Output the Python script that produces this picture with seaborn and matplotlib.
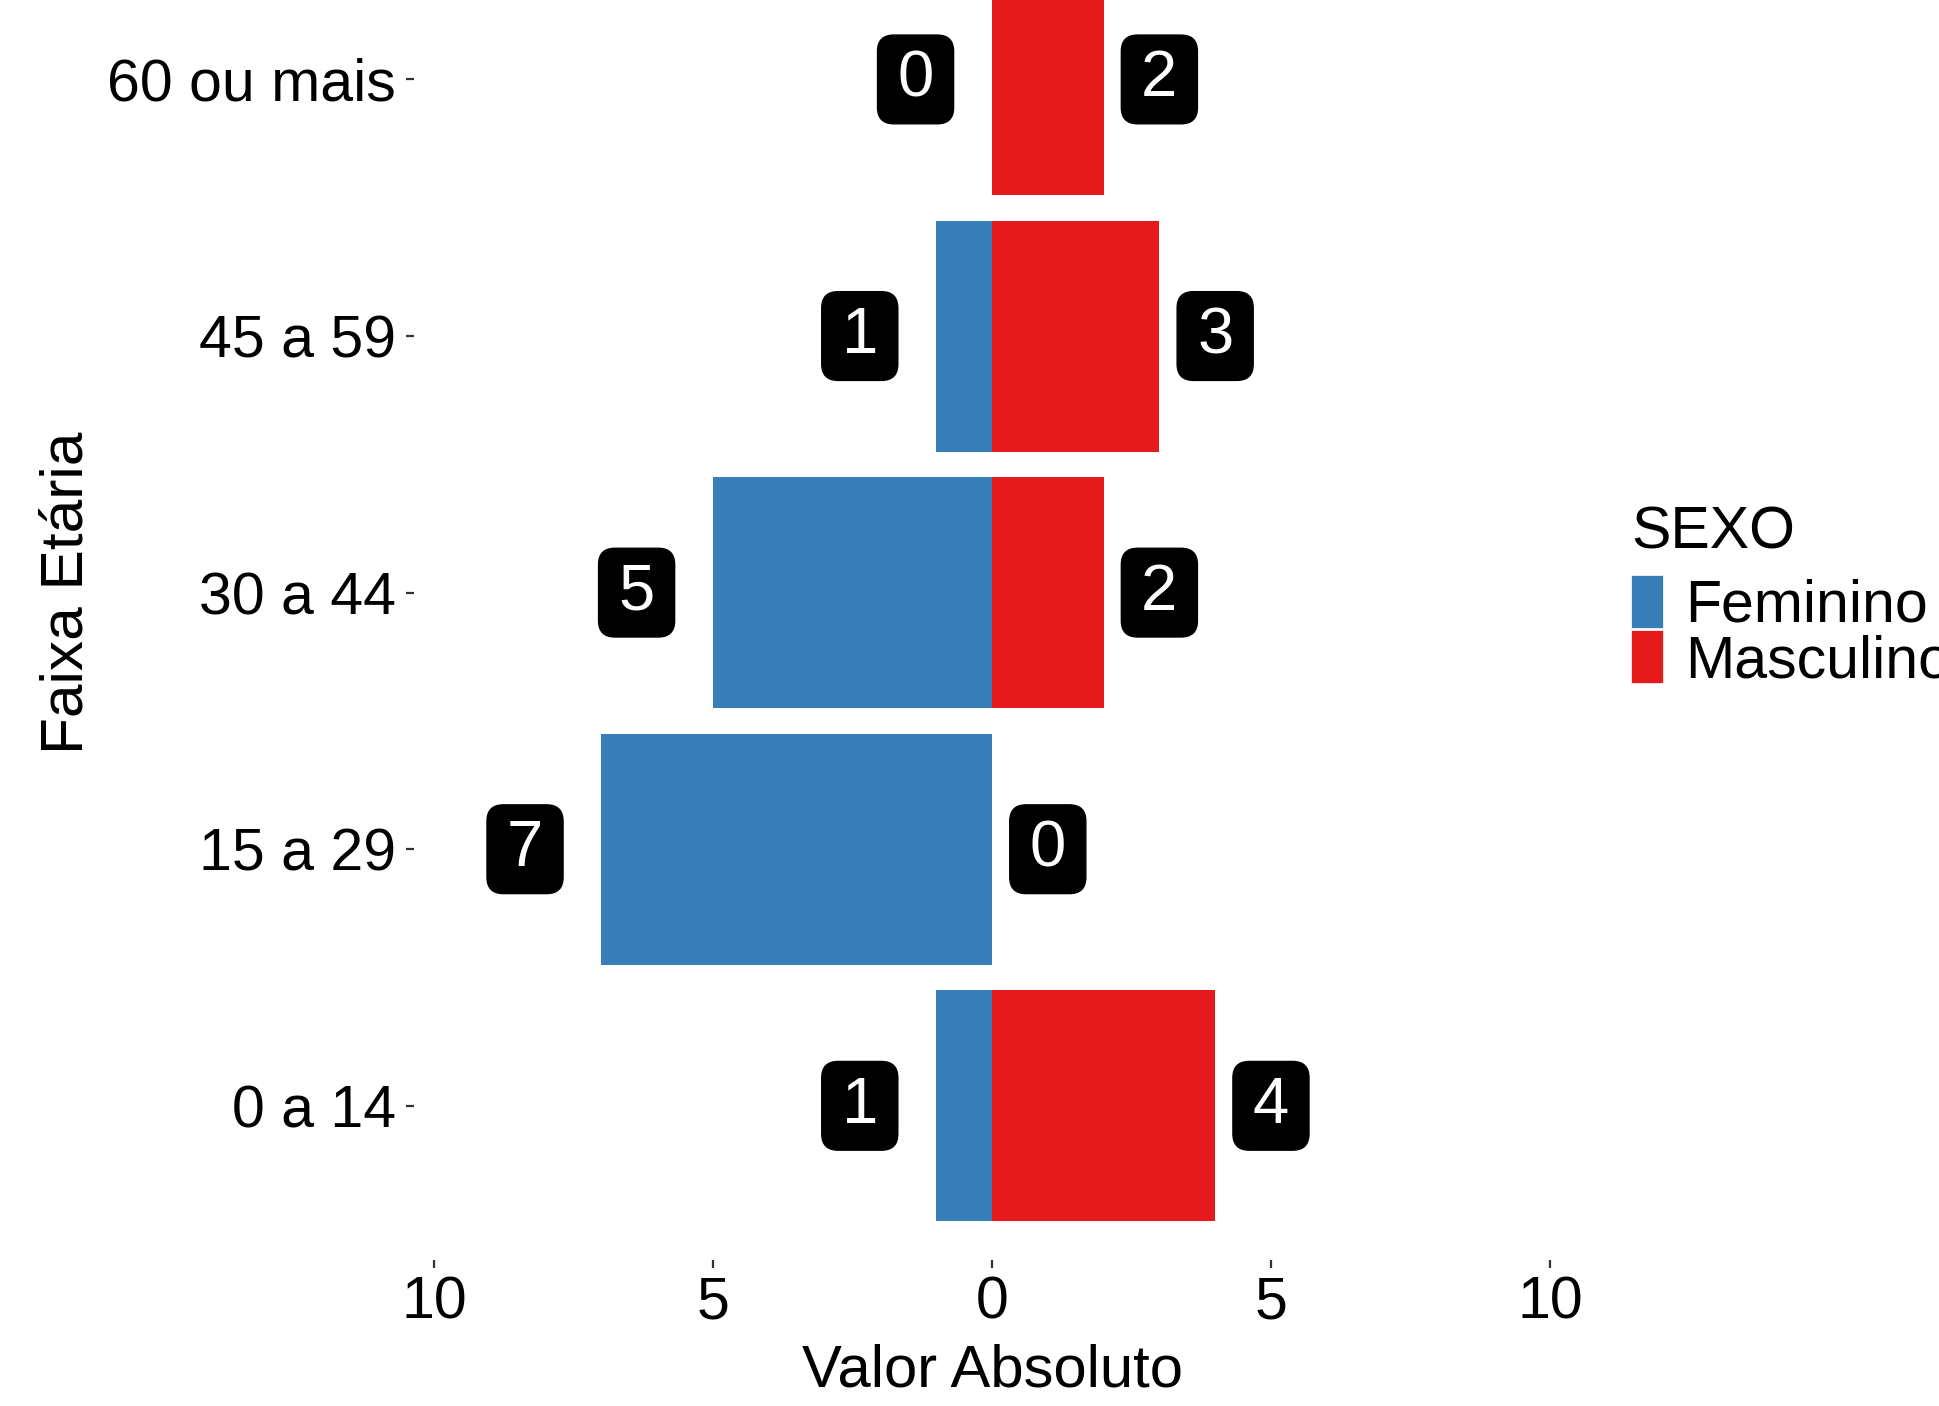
import matplotlib
matplotlib.use("Agg")
import matplotlib.pyplot as plt
import seaborn as sns
import pandas as pd
from matplotlib.patches import Patch, BoxStyle

categorias = ["60 ou mais", "45 a 59", "30 a 44", "15 a 29", "0 a 14"]
feminino = [0, 1, 5, 7, 1]
masculino = [2, 3, 2, 0, 4]
sexos = ["Feminino", "Masculino"]
cores = {"Feminino": "#377EB8", "Masculino": "#E41A1C"}
ticks = [-10, -5, 0, 5, 10]

df = pd.DataFrame({
    "faixa": categorias * 2,
    "valor": [-v for v in feminino] + masculino,
    "sexo": ["Feminino"] * len(categorias) + ["Masculino"] * len(categorias),
})

sns.set_style("white")
plt.rcParams['font.family'] = ['Liberation Sans', 'DejaVu Sans']
plt.rcParams['text.color'] = 'black'
plt.rcParams['axes.labelcolor'] = 'black'


class RoundXY:
    def __init__(self, padx, pady, r):
        self.padx, self.pady, self.r = padx, pady, r

    def __call__(self, x0, y0, width, height, mutation_size):
        px = self.padx * mutation_size
        py = self.pady * mutation_size
        return BoxStyle.Round(pad=0, rounding_size=self.r)(
            x0 - px, y0 - py, width + 2 * px, height + 2 * py, mutation_size)


fig = plt.figure(figsize=(19.39, 14.06), dpi=100)
ax = fig.add_axes([414 / 1939, 0.104, (1570 - 414) / 1939, 1.053 - 0.104])

sns.barplot(data=df, x="valor", y="faixa", hue="sexo", order=categorias,
            hue_order=sexos, palette=cores, dodge=False, width=0.9,
            orient="h", ax=ax, legend=False, saturation=1, linewidth=0)

ax.set_xlim(-10.36, 10.36)
ax.set_ylim(4.6, -0.6)
ax.set_xticks(ticks)
ax.set_xticklabels([str(abs(t)) for t in ticks])
for s in ax.spines.values():
    s.set_visible(False)
ax.tick_params(axis="both", which="both", bottom=True, left=True, length=6,
               width=1.6, color="#333333", labelsize=42.5, labelcolor="black")
ax.tick_params(axis="y", pad=7)
ax.tick_params(axis="x", pad=5)
ax.set_xlabel("Valor Absoluto", fontsize=43, labelpad=10)
ax.set_ylabel("Faixa Etária", fontsize=43.5, labelpad=9)

box = dict(boxstyle=RoundXY(0.305, 0.22, 0.25), fc="black", ec="black")
for i, cat in enumerate(categorias):
    f = feminino[i]
    m = masculino[i]
    ax.text(-(f + 1.37), i, str(f), color="white", fontsize=47, ha="center",
            va="center", bbox=box)
    ax.text(m + 1.0, i, str(m), color="white", fontsize=47, ha="center",
            va="center", bbox=box)

fig.text(1631 / 1939, 1 - 533 / 1406, "SEXO", fontsize=42.5, ha="left",
         va="center", color="black")
handles = [Patch(facecolor=cores[s], edgecolor="white", linewidth=0.5) for s in sexos]
leg = fig.legend(handles, sexos, loc="upper left",
                 bbox_to_anchor=(1631 / 1939, 1 - 575 / 1406), frameon=False,
                 fontsize=42.5, borderpad=0, borderaxespad=0,
                 handlelength=0.55, handleheight=1.01, handletextpad=0.36,
                 labelspacing=-0.06)

fig.savefig("out.png", dpi=100)
